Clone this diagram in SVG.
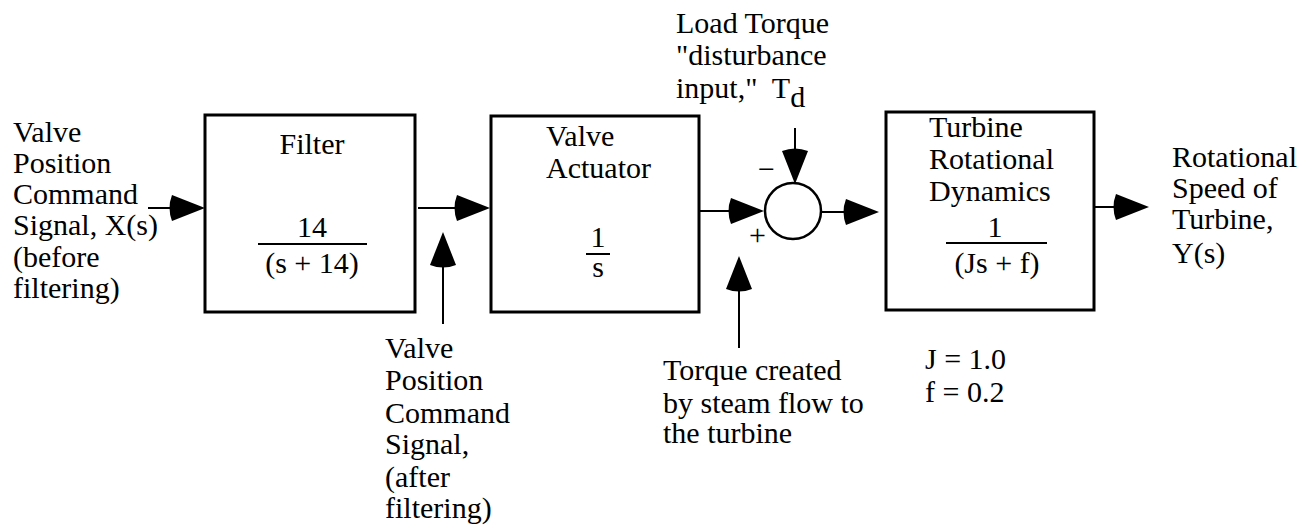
<svg xmlns="http://www.w3.org/2000/svg" width="1309" height="525" viewBox="0 0 1309 525">
<style>
text{font-family:"Liberation Serif","Times New Roman",serif;font-size:30px;fill:#000}
.box{fill:#fff;stroke:#000;stroke-width:3}
.ln{fill:none;stroke:#000;stroke-width:2}
.c{text-anchor:middle}
</style>
<defs>
<marker id="ah" markerUnits="userSpaceOnUse" markerWidth="40" markerHeight="30" viewBox="-4 -15 40 30" refX="0" refY="0" orient="auto" overflow="visible">
<path d="M34,0 L1,-13 Q-4,0 1,13 Z" fill="#000"/>
</marker>
</defs>
<rect width="1309" height="525" fill="#fff"/>
<g id="connectors">
<line class="ln" x1="148" y1="208" x2="171" y2="208" marker-end="url(#ah)"/>
<line class="ln" x1="418" y1="208" x2="456" y2="208" marker-end="url(#ah)"/>
<line class="ln" x1="443" y1="324" x2="443" y2="266" marker-end="url(#ah)"/>
<line class="ln" x1="700" y1="211" x2="730" y2="211" marker-end="url(#ah)"/>
<line class="ln" x1="795" y1="128" x2="795" y2="150" marker-end="url(#ah)"/>
<line class="ln" x1="739" y1="348" x2="739" y2="290" marker-end="url(#ah)"/>
<line class="ln" x1="822" y1="212" x2="845" y2="212" marker-end="url(#ah)"/>
<line class="ln" x1="1095" y1="207" x2="1115" y2="207" marker-end="url(#ah)"/>
</g>
<g id="input-label">
<text x="13" y="142">Valve</text>
<text x="13" y="173">Position</text>
<text x="13" y="204">Command</text>
<text x="13" y="235">Signal, X(s)</text>
<text x="13" y="267">(before</text>
<text x="13" y="298">filtering)</text>
</g>
<g id="filter">
<rect class="box" x="205" y="115" width="210" height="197"/>
<text class="c" x="312" y="154">Filter</text>
<text class="c" x="312" y="237">14</text>
<line class="ln" x1="258" y1="244" x2="367" y2="244" stroke-width="2.5"/>
<text class="c" x="312" y="273">(s + 14)</text>
</g>
<g id="filtered-label">
<text x="385" y="358">Valve</text>
<text x="385" y="390">Position</text>
<text x="385" y="423">Command</text>
<text x="385" y="454">Signal,</text>
<text x="385" y="487">(after</text>
<text x="385" y="518">filtering)</text>
</g>
<g id="actuator">
<rect class="box" x="491" y="116" width="208" height="196"/>
<text x="546" y="146">Valve</text>
<text x="546" y="178">Actuator</text>
<text class="c" x="598" y="247">1</text>
<line class="ln" x1="586" y1="254" x2="610" y2="254" stroke-width="2.5"/>
<text class="c" x="598" y="277">s</text>
</g>
<g id="load-torque">
<text x="676" y="33">Load Torque</text>
<text x="676" y="65">"disturbance</text>
<text x="676" y="98" xml:space="preserve">input,"  T<tspan dy="9">d</tspan></text>
</g>
<g id="sum">
<circle cx="793" cy="211" r="28" fill="#fff" stroke="#000" stroke-width="2.5"/>
<text x="758" y="179">−</text>
<text x="749" y="245">+</text>
</g>
<g id="torque-label">
<text x="663" y="380">Torque created</text>
<text x="663" y="413">by steam flow to</text>
<text x="663" y="443">the turbine</text>
</g>
<g id="turbine">
<rect class="box" x="886" y="112" width="208" height="198"/>
<text x="929" y="137">Turbine</text>
<text x="929" y="169">Rotational</text>
<text x="929" y="201">Dynamics</text>
<text class="c" x="995" y="237">1</text>
<line class="ln" x1="946" y1="243" x2="1047" y2="243" stroke-width="2.5"/>
<text class="c" x="997" y="273">(Js + f)</text>
</g>
<g id="params">
<text x="925" y="369">J = 1.0</text>
<text x="925" y="402">f = 0.2</text>
</g>
<g id="output-label">
<text x="1172" y="167">Rotational</text>
<text x="1172" y="198">Speed of</text>
<text x="1172" y="229">Turbine,</text>
<text x="1172" y="263">Y(s)</text>
</g>
</svg>
